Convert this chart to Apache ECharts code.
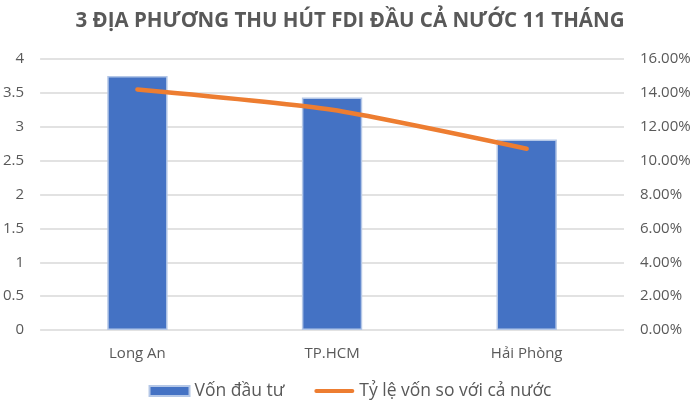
<!DOCTYPE html>
<html lang="vi">
<head>
<meta charset="UTF-8">
<title>FDI 11 tháng</title>
<script src="https://cdn.jsdelivr.net/npm/echarts@6/dist/echarts.min.js"></script>
<style>
  html, body { margin: 0; padding: 0; background: #fff; }
  #chart { width: 700px; height: 414px; }
</style>
</head>
<body>
<div id="chart"></div>
<script>
// dữ liệu
var categories = ['Long An', 'TP.HCM', 'Hải Phòng'];
var vonDauTu = [3.75, 3.43, 2.81];
var tyLe = [0.142, 0.130, 0.107];

var chart = echarts.init(document.getElementById('chart'));
var grey = '#595959';
var font = 'Open Sans';

chart.setOption({
  animation: false,
  title: {
    text: '3 ĐỊA PHƯƠNG THU HÚT FDI ĐẦU CẢ NƯỚC 11 THÁNG',
    left: 'center',
    top: 6,
    textStyle: { color: grey, fontSize: 20.5, fontWeight: 'bold', fontFamily: font }
  },
  legend: {
    bottom: 9,
    itemGap: 30,
    itemWidth: 40,
    itemHeight: 10,
    textStyle: { color: grey, fontSize: 17.5, fontFamily: font },
    data: [
      { name: 'Vốn đầu tư', icon: 'rect' },
      { name: 'Tỷ lệ vốn so với cả nước', icon: 'path://M2,0 L38,0 A2,2 0 0 1 38,4 L2,4 A2,2 0 0 1 2,0 Z' }
    ]
  },
  grid: { left: 40, right: 76, top: 59, bottom: 84 },
  xAxis: {
    type: 'category',
    data: categories,
    axisLine: { show: false },
    axisTick: { show: false },
    axisLabel: { color: grey, fontSize: 15, fontFamily: font, margin: 16 }
  },
  yAxis: [
    {
      type: 'value',
      min: 0, max: 4, interval: 0.5,
      axisLine: { show: false },
      axisTick: { show: false },
      splitLine: { lineStyle: { color: '#d9d9d9', width: 1.5 } },
      axisLabel: { color: grey, fontSize: 15, fontFamily: font, margin: 16 }
    },
    {
      type: 'value',
      min: 0, max: 0.16, interval: 0.02,
      axisLine: { show: false },
      axisTick: { show: false },
      splitLine: { show: false },
      axisLabel: {
        color: grey, fontSize: 15, fontFamily: font, margin: 16,
        formatter: function (v) { return (v * 100).toFixed(2) + '%'; }
      }
    }
  ],
  series: [
    {
      name: 'Vốn đầu tư',
      type: 'bar',
      data: vonDauTu,
      barWidth: '31%',
      itemStyle: { color: '#4472C4', borderColor: '#b4c7e7', borderWidth: 1.5 }
    },
    {
      name: 'Tỷ lệ vốn so với cả nước',
      type: 'line',
      yAxisIndex: 1,
      data: tyLe,
      smooth: 0.2,
      symbol: 'none',
      lineStyle: { color: '#ED7D31', width: 4.5, cap: 'round' },
      itemStyle: { color: '#ED7D31' }
    }
  ]
});
</script>
</body>
</html>
